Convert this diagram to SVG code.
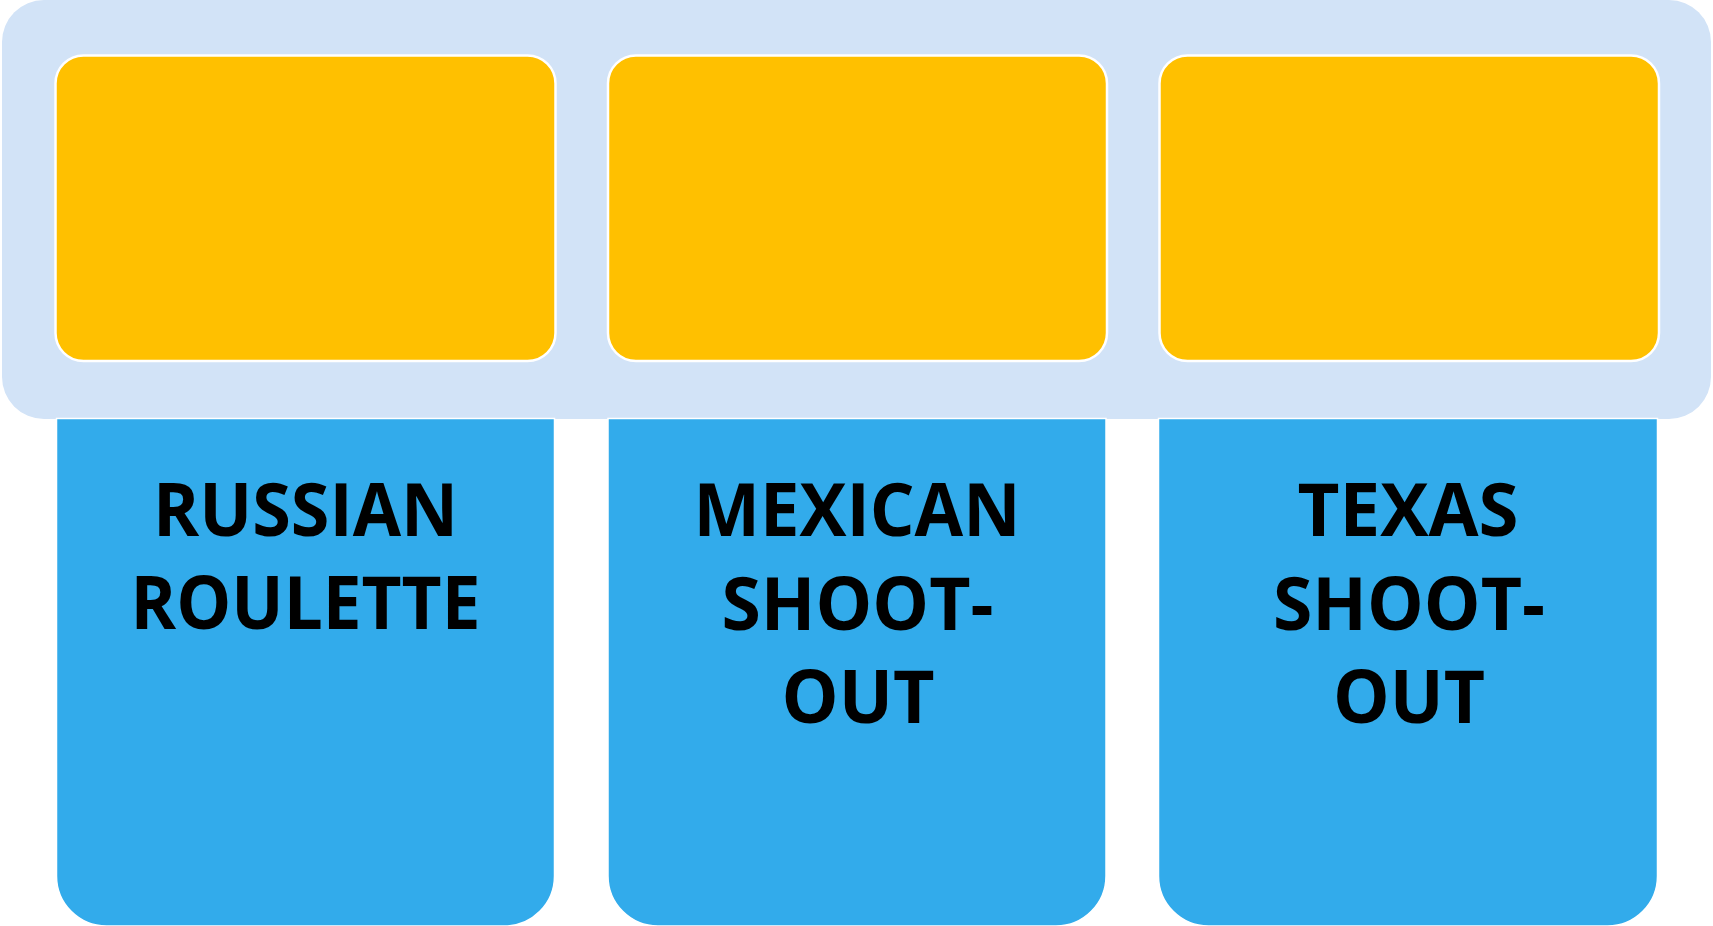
<svg xmlns="http://www.w3.org/2000/svg" width="1713" height="926" viewBox="0 0 1713 926">
<style>
.bg{fill:#D2E3F7}
.top{fill:#FFC000;stroke:#FFFFFF;stroke-width:2.5}
.bot{fill:#32ABEB;stroke:#FFFFFF;stroke-width:1.5}
.lbl{font-family:"Open Sans",Lato,"Liberation Sans",sans-serif;font-weight:bold;font-size:74px;fill:#000000;text-anchor:middle}
</style>
<rect width="1713" height="926" fill="#FFFFFF"/>
<g id="background">
<rect class="bg" x="2" y="0" width="1709" height="419" rx="42" ry="42"/>
</g>
<g id="connectors"></g>
<g id="top1"><rect class="top" x="55.5" y="55.5" width="500" height="305.5" rx="28"/></g>
<g id="top2"><rect class="top" x="608" y="55.5" width="499" height="305.5" rx="28"/></g>
<g id="top3"><rect class="top" x="1159.5" y="55.5" width="499.5" height="305.5" rx="28"/></g>
<g id="node1">
<path class="bot" d="M56.5 418.5 H554.5 V876 A50 50 0 0 1 504.5 926 H106.5 A50 50 0 0 1 56.5 876 Z"/>
<text class="lbl" x="305.5" y="536" textLength="305" lengthAdjust="spacingAndGlyphs">RUSSIAN</text>
<text class="lbl" x="305.5" y="629" textLength="350" lengthAdjust="spacingAndGlyphs">ROULETTE</text>
</g>
<g id="node2">
<path class="bot" d="M608 418.5 H1106 V876 A50 50 0 0 1 1056 926 H658 A50 50 0 0 1 608 876 Z"/>
<text class="lbl" x="857" y="536" textLength="327" lengthAdjust="spacingAndGlyphs">MEXICAN</text>
<text class="lbl" x="857.5" y="630" textLength="272" lengthAdjust="spacingAndGlyphs">SHOOT-</text>
<text class="lbl" x="858" y="723" textLength="153" lengthAdjust="spacingAndGlyphs">OUT</text>
</g>
<g id="node3">
<path class="bot" d="M1158.5 418.5 H1657.5 V876 A50 50 0 0 1 1607.5 926 H1208.5 A50 50 0 0 1 1158.5 876 Z"/>
<text class="lbl" x="1408" y="536" textLength="221" lengthAdjust="spacingAndGlyphs">TEXAS</text>
<text class="lbl" x="1409" y="630" textLength="272" lengthAdjust="spacingAndGlyphs">SHOOT-</text>
<text class="lbl" x="1409" y="723" textLength="152" lengthAdjust="spacingAndGlyphs">OUT</text>
</g>
</svg>
